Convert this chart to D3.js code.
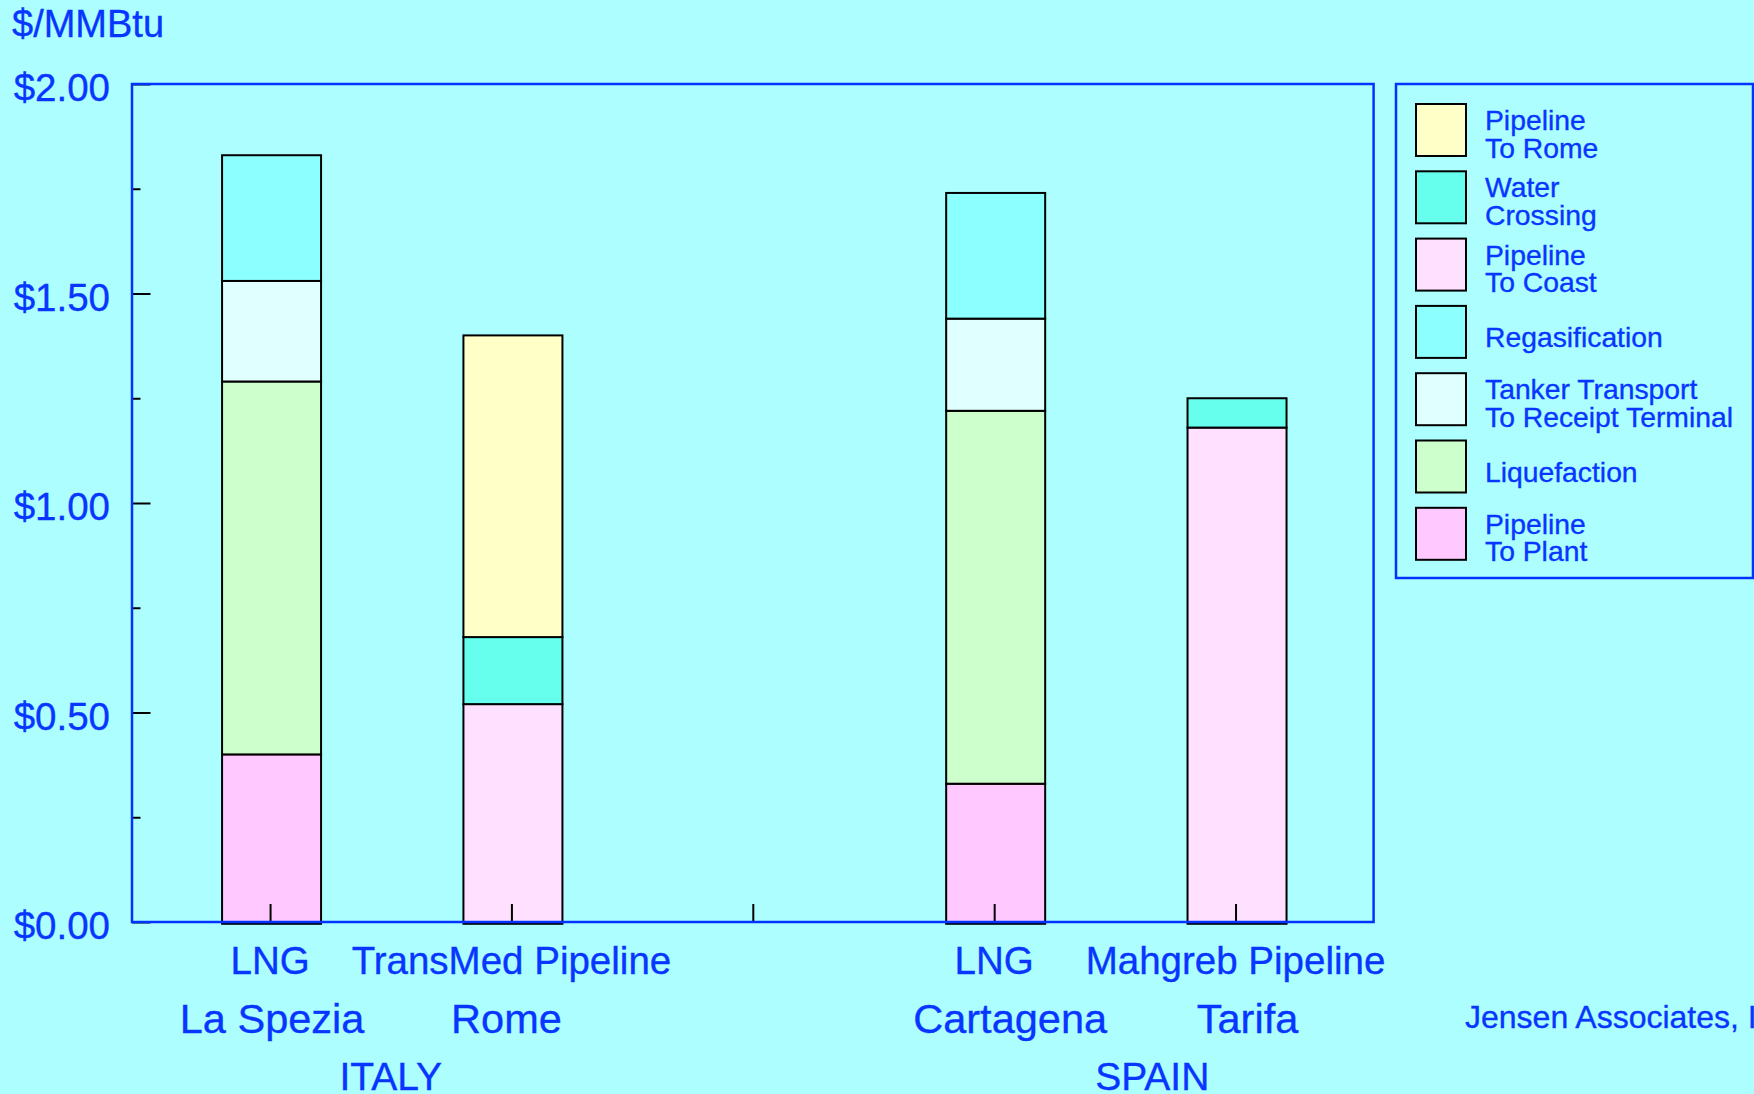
<!DOCTYPE html>
<html>
<head>
<meta charset="utf-8">
<script src="https://cdn.jsdelivr.net/npm/d3@7/dist/d3.min.js"></script>
<style>
  html, body { margin: 0; padding: 0; background: #adffff; overflow: hidden; }
  svg { display: block; }
  text { font-family: "Liberation Sans", Arial, Helvetica, sans-serif; fill: #0836ff; stroke: #0836ff; stroke-width: 0.35px; }
</style>
</head>
<body>
<svg id="chart" width="1754" height="1094"></svg>
<script>
// Delivered cost of gas by route, $/MMBtu, stacked by cost component.
// Slot 2 is an empty spacer between the Italian and Spanish routes.
const routes    = ["LNG", "TransMed Pipeline", "", "LNG", "Mahgreb Pipeline"];
const terminals = ["La Spezia", "Rome", "", "Cartagena", "Tarifa"];
const countries = ["ITALY", "SPAIN"];

// Component values per slot (bottom of stack first)
const pipelineToPlant = [0.40, 0.00, 0, 0.33, 0.00];
const liquefaction    = [0.89, 0.00, 0, 0.89, 0.00];
const tankerTransport = [0.24, 0.00, 0, 0.22, 0.00];
const regasification  = [0.30, 0.00, 0, 0.30, 0.00];
const pipelineToCoast = [0.00, 0.52, 0, 0.00, 1.18];
const waterCrossing   = [0.00, 0.16, 0, 0.00, 0.07];
const pipelineToRome  = [0.00, 0.72, 0, 0.00, 0.00];

// Legend entries, listed top to bottom
const legendLabels = [
  ["Pipeline", "To Rome"],
  ["Water", "Crossing"],
  ["Pipeline", "To Coast"],
  ["Regasification"],
  ["Tanker Transport", "To Receipt Terminal"],
  ["Liquefaction"],
  ["Pipeline", "To Plant"]
];

const yTickLabels = ["$0.00", "$0.50", "$1.00", "$1.50", "$2.00"];

// Build stack input
const seriesKeys = ["plant", "liq", "tanker", "regas", "coast", "water", "rome"];
const seriesVals = [pipelineToPlant, liquefaction, tankerTransport, regasification,
                    pipelineToCoast, waterCrossing, pipelineToRome];
const colors = {
  plant: "#ffc8ff", liq: "#ccffcc", tanker: "#e0ffff", regas: "#8cffff",
  coast: "#ffe0ff", water: "#66ffee", rome: "#ffffc8"
};
const rows = routes.map((r, i) => {
  const o = { slot: i };
  seriesKeys.forEach((k, j) => { o[k] = seriesVals[j][i]; });
  return o;
});
const stacked = d3.stack().keys(seriesKeys)(rows);

// Layout
const plot = { left: 132, top: 84, right: 1373.6, bottom: 922 };
const svg = d3.select("#chart");
svg.append("rect").attr("width", 1754).attr("height", 1094).attr("fill", "#adffff");

const x = d3.scalePoint()
  .domain(d3.range(routes.length))
  .range([plot.left, plot.right])
  .padding(0.572);
const y = d3.scaleLinear().domain([0, 2]).range([plot.bottom, plot.top]);
const barW = 99;
const blue = "#0033ff";

// Bars
const g = svg.append("g");
stacked.forEach(layer => {
  g.append("g")
    .selectAll("rect")
    .data(layer.filter(d => d[1] - d[0] > 0))
    .join("rect")
    .attr("x", d => x(d.data.slot) - barW / 2 + 1.5)
    .attr("y", d => y(d[1]))
    .attr("width", barW)
    .attr("height", d => y(d[0]) - y(d[1]) + (d[0] === 0 ? 1.8 : 0))
    .attr("fill", colors[layer.key])
    .attr("stroke", "#000")
    .attr("stroke-width", 2);
});

// Category ticks pointing up from the base line
const xAxis = d3.axisBottom(x).tickSizeInner(-18).tickSizeOuter(0).tickFormat("");
const gx = svg.append("g").attr("transform", `translate(0,${plot.bottom})`).call(xAxis);
gx.select(".domain").remove();
gx.selectAll(".tick line").attr("stroke", "#000").attr("stroke-width", 2);

// Y ticks: major every 0.50, minor every 0.25, drawn inside the frame
const yMajor = d3.axisLeft(y).tickValues([0, 0.5, 1, 1.5, 2]).tickSize(-18.5).tickFormat("");
const yMinor = d3.axisLeft(y).tickValues([0.25, 0.75, 1.25, 1.75]).tickSize(-8.5).tickFormat("");
[yMajor, yMinor].forEach(ax => {
  const ga = svg.append("g").attr("transform", `translate(${plot.left},0)`).call(ax);
  ga.select(".domain").remove();
  ga.selectAll(".tick line").attr("stroke", "#000").attr("stroke-width", 2);
});

// Y tick labels
svg.append("g").selectAll("text")
  .data(yTickLabels)
  .join("text")
  .attr("x", 110)
  .attr("y", (d, i) => y(i * 0.5) + 17)
  .attr("text-anchor", "end")
  .attr("font-size", 38.5)
  .text(d => d);

// Frame
svg.append("rect")
  .attr("x", plot.left).attr("y", plot.top)
  .attr("width", plot.right - plot.left).attr("height", plot.bottom - plot.top)
  .attr("fill", "none").attr("stroke", blue).attr("stroke-width", 2.5);

// Unit title
svg.append("text").attr("x", 12).attr("y", 37).attr("font-size", 38).text("$/MMBtu");

// Category labels: route, terminal, country
const terminalNudge = [2, -5, 0, 16, 12];
svg.append("g").selectAll("text")
  .data(routes)
  .join("text")
  .attr("x", (d, i) => x(i))
  .attr("y", 974)
  .attr("text-anchor", "middle")
  .attr("font-size", 38.5)
  .text(d => d);
svg.append("g").selectAll("text")
  .data(terminals)
  .join("text")
  .attr("x", (d, i) => x(i) + terminalNudge[i])
  .attr("y", 1033)
  .attr("text-anchor", "middle")
  .attr("font-size", 41.5)
  .text(d => d);
const countryAnchor = [[0, 0.5], [3, 0.655]];
svg.append("g").selectAll("text")
  .data(countries)
  .join("text")
  .attr("x", (d, i) => x(countryAnchor[i][0]) + countryAnchor[i][1] * x.step())
  .attr("y", 1090)
  .attr("text-anchor", "middle")
  .attr("font-size", 39)
  .text(d => d);

// Legend
const legendColors = ["rome", "water", "coast", "regas", "tanker", "liq", "plant"].map(k => colors[k]);
svg.append("rect")
  .attr("x", 1396).attr("y", 84).attr("width", 357).attr("height", 494)
  .attr("fill", "none").attr("stroke", blue).attr("stroke-width", 2.5);
const lg = svg.append("g").selectAll("g")
  .data(legendLabels)
  .join("g")
  .attr("transform", (d, i) => `translate(1416,${104 + i * 67.3})`);
lg.append("rect")
  .attr("width", 50).attr("height", 52)
  .attr("fill", (d, i) => legendColors[i])
  .attr("stroke", "#000").attr("stroke-width", 2);
lg.each(function(lines) {
  const t = d3.select(this).append("text")
    .attr("x", 69)
    .attr("font-size", 28.3);
  const base = lines.length === 1 ? 41 : 26;
  lines.forEach((ln, k) => {
    t.append("tspan").attr("x", 69).attr("y", base + k * 27.7).text(ln);
  });
});

// Source credit
svg.append("text").attr("x", 1465).attr("y", 1027.5).attr("font-size", 32)
  .text("Jensen Associates, Inc.");
</script>
</body>
</html>
